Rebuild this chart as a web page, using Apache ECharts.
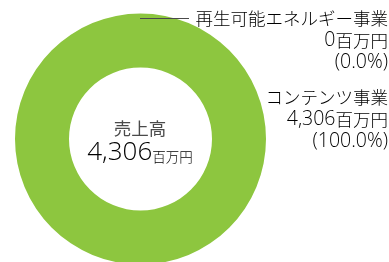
<!DOCTYPE html>
<html>
<head>
<meta charset="utf-8">
<script src="https://cdn.jsdelivr.net/npm/echarts@6/dist/echarts.min.js"></script>
<style>
  html, body { margin: 0; padding: 0; background: #fff; }
  #chart { width: 389px; height: 262px; }
</style>
</head>
<body>
<div id="chart"></div>
<script>
// 事業別売上
const segments = ['再生可能エネルギー事業', 'コンテンツ事業'];
const sales = [0, 4306];
const shares = ['0.0%', '100.0%'];
const totalLabel = '売上高';
const unit = '百万円';

const fmt = v => v.toLocaleString('en-US');
const total = sales.reduce((a, b) => a + b, 0);
const jp = '"Noto Sans CJK JP", sans-serif';
const num = '"Open Sans", "Noto Sans", sans-serif';
const textColor = '#4a4a4a';

const chart = echarts.init(document.getElementById('chart'));

const rich = {
    j: { fontSize: 17.5, fontWeight: 300, fontFamily: jp, color: textColor, lineHeight: 22 },
    d: { fontSize: 19.5, fontWeight: 300, fontFamily: num, color: textColor, lineHeight: 22 }
};
const labelText = i =>
    `{j|${segments[i]}}\n{d|${fmt(sales[i])}}{j|${unit}}\n{d|(${shares[i]})}`;

chart.setOption({
    animation: false,
    series: [{
        type: 'pie',
        center: [140.5, 139],
        radius: [71.5, 125.5],
        startAngle: 90,
        clockwise: true,
        silent: true,
        label: { show: false },
        labelLine: { show: false },
        itemStyle: { color: '#8dc63f' },
        data: segments.map((name, i) => ({ name: name, value: sales[i] }))
    }],
    graphic: [
        {
            type: 'line', z: 100,
            shape: { x1: 140, y1: 18.5, x2: 189, y2: 18.5 },
            style: { stroke: textColor, lineWidth: 1 }
        },
        {
            type: 'text', z: 100,
            x: 388, y: 7,
            style: { text: labelText(0), align: 'right', verticalAlign: 'top', rich: rich }
        },
        {
            type: 'text', z: 100,
            x: 388, y: 86,
            style: { text: labelText(1), align: 'right', verticalAlign: 'top', rich: rich }
        },
        {
            type: 'text', z: 100,
            x: 140, y: 128,
            style: {
                text: totalLabel, align: 'center', verticalAlign: 'middle',
                font: `17.5px ${jp}`, fill: textColor
            }
        },
        {
            type: 'text', z: 100,
            x: 140, y: 153,
            style: {
                text: `{n|${fmt(total)}}{u|${unit}}`, align: 'center', verticalAlign: 'middle',
                rich: {
                    n: { fontSize: 26, fontWeight: 300, fontFamily: num, color: textColor },
                    u: { fontSize: 13.5, fontWeight: 300, fontFamily: jp, color: textColor, padding: [7, 0, 0, 0] }
                }
            }
        }
    ]
});
</script>
</body>
</html>
